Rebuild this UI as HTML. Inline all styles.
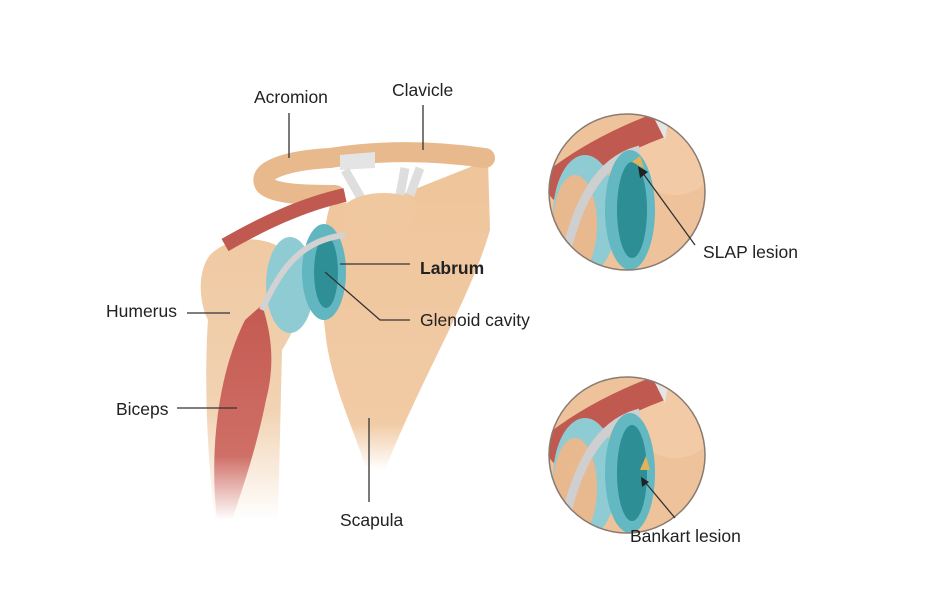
<!DOCTYPE html>
<html><head><meta charset="utf-8"><style>
html,body{margin:0;padding:0;background:#fff;}
svg{display:block;}
text{font-family:"Liberation Sans",sans-serif;font-size:17.5px;fill:#222;}
</style></head><body>
<svg width="943" height="596" viewBox="0 0 943 596" xmlns="http://www.w3.org/2000/svg">
<defs>
<linearGradient id="fadeH" x1="0" y1="0" x2="0" y2="1">
<stop offset="0" stop-color="#efc9a2"/><stop offset="0.6" stop-color="#f1d2b2"/><stop offset="1" stop-color="#fff"/>
</linearGradient>
<linearGradient id="fadeM" x1="0" y1="0" x2="0" y2="1">
<stop offset="0" stop-color="#c45a52"/><stop offset="0.7" stop-color="#cf6f66"/><stop offset="1" stop-color="#fff"/>
</linearGradient>
<linearGradient id="scap" x1="0" y1="0" x2="0" y2="1">
<stop offset="0" stop-color="#efc59b"/><stop offset="0.85" stop-color="#f1cba5"/><stop offset="1" stop-color="#fff"/>
</linearGradient>
<clipPath id="c1"><circle cx="627" cy="192" r="78"/></clipPath>
<clipPath id="c2"><circle cx="627" cy="455" r="78"/></clipPath>
<g id="detail">
<rect x="540" y="100" width="180" height="190" fill="#eec39b"/>
<ellipse cx="675" cy="160" rx="40" ry="35" fill="#f2cba6"/>
<path d="M545 190 C580 160 620 140 660 125" stroke="#c05a50" stroke-width="26" fill="none"/>
<path d="M650 110 L670 110 L665 140 Z" fill="#e5e5e5"/>
<ellipse cx="585" cy="215" rx="32" ry="60" fill="#8fcbd3"/>
<ellipse cx="575" cy="225" rx="22" ry="50" fill="#e8b88e"/>
<path d="M640 150 C600 160 575 200 560 280" stroke="#cfcfcf" stroke-width="9" fill="none"/>
<ellipse cx="630" cy="210" rx="25" ry="60" fill="#64b8c2"/>
<ellipse cx="632" cy="210" rx="15" ry="48" fill="#2d8e96"/>
</g>
</defs>

<path d="M330 205 L400 195 L488 160 L490 230 C470 300 420 380 385 470 L365 465 C350 420 330 380 325 330 C320 290 320 240 330 205 Z" fill="url(#scap)"/>
<path d="M210 255 C235 230 285 235 300 270 C308 300 295 330 282 350 L278 520 L215 520 C205 440 205 360 208 320 C198 300 198 270 210 255 Z" fill="url(#fadeH)"/>
<path d="M485 158 C430 150 380 150 330 158 C290 160 255 170 265 185 C275 195 310 195 335 195" stroke="#e8b98c" stroke-width="20" fill="none" stroke-linecap="round"/>
<path d="M340 155 L375 152 L375 168 L340 170 Z" fill="#e4e4e4"/>
<path d="M345 170 L365 205 M405 168 L400 195 M420 168 L410 195" stroke="#dedede" stroke-width="9"/>
<path d="M345 205 C360 190 400 190 415 200 C418 215 405 235 380 238 C355 240 340 225 345 205 Z" fill="#f0c8a0"/>
<path d="M225 245 C260 225 300 205 345 195" stroke="#c05a50" stroke-width="14" fill="none"/>
<ellipse cx="290" cy="285" rx="24" ry="48" fill="#8fcbd3"/>
<ellipse cx="324" cy="272" rx="22" ry="48" fill="#62b6c0"/>
<ellipse cx="326" cy="272" rx="12" ry="36" fill="#2e8f97"/>
<path d="M262 305 C272 335 275 365 266 400 C256 450 242 490 232 520 L217 520 C210 460 215 380 245 320 Z" fill="url(#fadeM)"/>
<path d="M345 235 C300 240 280 270 262 310" stroke="#d2d2d2" stroke-width="6" fill="none"/>

<g clip-path="url(#c1)"><use href="#detail"/><path d="M632 162 l8 -6 l4 12 z" fill="#e2b25a"/></g>
<circle cx="627" cy="192" r="78" fill="none" stroke="#8a7a70" stroke-width="1.5"/>
<g clip-path="url(#c2)"><use href="#detail" transform="translate(0,263)"/><path d="M640 470 l6 -14 l4 14 z" fill="#e2b25a"/></g>
<circle cx="627" cy="455" r="78" fill="none" stroke="#8a7a70" stroke-width="1.5"/>

<g stroke="#333" stroke-width="1.3" fill="none">
<path d="M289 113 V158"/><path d="M423 105 V150"/>
<path d="M340 264 H410"/><path d="M325 272 L380 320 H410"/>
<path d="M187 313 H230"/><path d="M177 408 H237"/>
<path d="M369 418 V502"/>
<path d="M695 245 L642 172"/><path d="M675 518 L645 482"/>
</g>
<path d="M638 166 l2 12 l8 -6 z" fill="#222"/>
<path d="M641 477 l1 10 l7 -5 z" fill="#222"/>

<text x="254" y="103">Acromion</text>
<text x="392" y="96">Clavicle</text>
<text x="420" y="274" font-weight="bold">Labrum</text>
<text x="420" y="326">Glenoid cavity</text>
<text x="106" y="317">Humerus</text>
<text x="116" y="415">Biceps</text>
<text x="340" y="526">Scapula</text>
<text x="703" y="258">SLAP lesion</text>
<text x="630" y="542">Bankart lesion</text>
</svg>
</body></html>
